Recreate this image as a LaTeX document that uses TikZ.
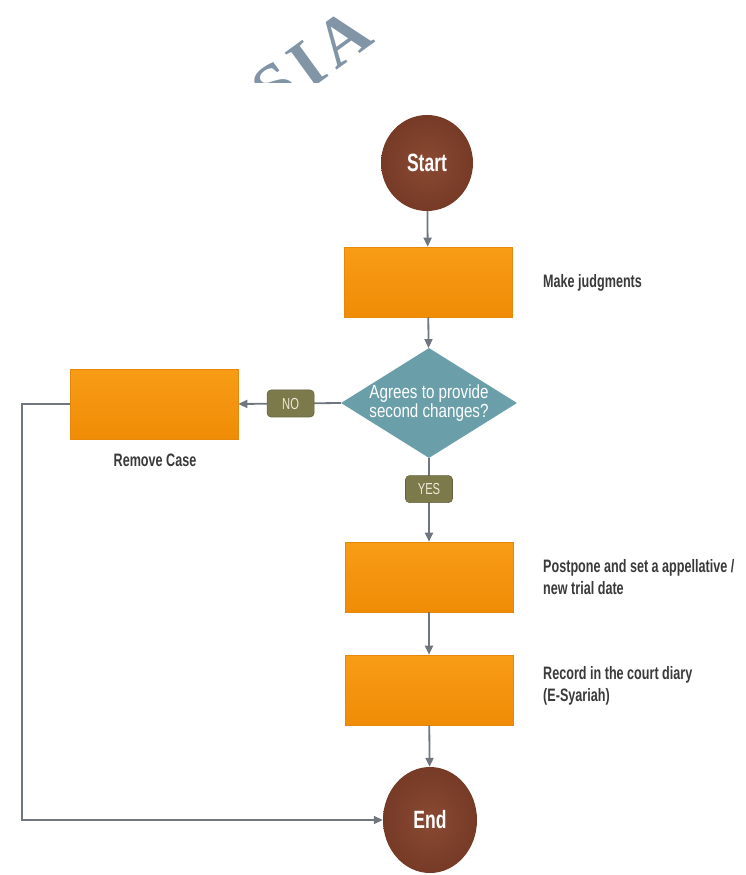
\documentclass[tikz,border=0pt]{standalone}
\usepackage{fontspec}
\setmainfont{Liberation Sans}
\newfontfamily\condfont{Liberation Sans}[FakeStretch=0.7]
\newfontfamily\decfont{Liberation Sans}[FakeStretch=0.8]
\newfontfamily\markfont{Liberation Serif}[LetterSpace=10]
\usetikzlibrary{shapes.geometric,arrows.meta}

\definecolor{boxorange}{HTML}{F6950D}
\definecolor{boxtop}{HTML}{F89C16}
\definecolor{boxbottom}{HTML}{F08C06}
\definecolor{boxedge}{HTML}{E5870A}
\definecolor{termbrown}{HTML}{763A26}
\definecolor{termlight}{HTML}{8A4A33}
\definecolor{decteal}{HTML}{6A9FA9}
\definecolor{tagolive}{HTML}{7C7A4B}
\definecolor{tagtext}{HTML}{ECEAD6}
\definecolor{linegrey}{HTML}{6F767D}
\definecolor{labelgrey}{HTML}{3A3A3A}
\definecolor{markblue}{HTML}{8195A7}

\tikzset{
  stepbox/.style={rectangle, top color=boxtop, bottom color=boxbottom,
    draw=boxedge, line width=0.6pt,
    minimum width=168pt, minimum height=70pt, inner sep=0pt},
  term/.style={ellipse, inner color=termlight, outer color=termbrown,
    text=white, inner sep=0pt,
    font=\condfont\bfseries\fontsize{25}{28}\selectfont},
  decision/.style={diamond, fill=decteal, minimum width=176pt,
    minimum height=110pt, inner sep=0pt},
  dectext/.style={text=white, align=center, inner sep=0pt,
    font=\decfont\fontsize{19}{19}\selectfont},
  tag/.style={rectangle, rounded corners=4pt, fill=tagolive, draw=tagolive!80!black,
    line width=0.6pt, text=tagtext, minimum width=47pt, minimum height=27pt,
    inner sep=0pt, font=\condfont\fontsize{16}{16}\selectfont},
  note/.style={text=labelgrey, align=left, anchor=west, inner sep=0pt,
    font=\condfont\bfseries\fontsize{18}{22}\selectfont},
  flow/.style={draw=linegrey, line width=1.8pt,
    -{Triangle[length=9pt,width=8pt]}},
}

\begin{document}
\begin{tikzpicture}[x=1pt, y=-1pt]
\useasboundingbox (0,0) rectangle (746,875);

% watermark fragment
\begin{scope}
  \clip (200,0) rectangle (420,82);
  \node[text=markblue, inner sep=0pt, rotate=36,
    font=\markfont\bfseries\fontsize{68}{68}\selectfont] (wm) at (312,61) {SIA};
\end{scope}

% nodes
\node[term, minimum width=92pt, minimum height=96pt] (start) at (427,163) {Start};
\node[stepbox] (judge) at (428,282) {};
\node[note] (judgetxt) at (543,283) {Make judgments};
\node[decision] (dec) at (429,403) {};
\node[dectext] (dectxt) at (dec.center) {Agrees to provide\\second changes?};
\node[stepbox] (remove) at (154,404) {};
\node[text=labelgrey, inner sep=0pt,
  font=\condfont\bfseries\fontsize{18}{22}\selectfont] (removetxt) at (155,460) {Remove Case};
\node[stepbox] (post) at (429,577) {};
\node[note] (posttxt) at (543,577)
  {Postpone and set a appellative /\\new trial date};
\node[stepbox] (rec) at (429,690) {};
\node[note] (rectxt) at (543,686)
  {Record in the court diary\\(E-Syariah)};
\node[term, minimum width=94pt, minimum height=106pt] (end) at (430,820) {End};

% connectors
\draw[flow] (start) -- (judge);
\draw[flow] (judge) -- (dec);
\draw[flow] (dec.west) -- node[tag, pos=0.49] (no) {NO} (remove.east);
\draw[flow] (dec.south) -- node[tag, pos=0.37] (yes) {YES} (post.north);
\draw[flow] (post) -- (rec);
\draw[flow] (rec) -- (end);
\draw[flow] (remove.west) -- ++(-48,0) |- (end.west);
\end{tikzpicture}
\end{document}
